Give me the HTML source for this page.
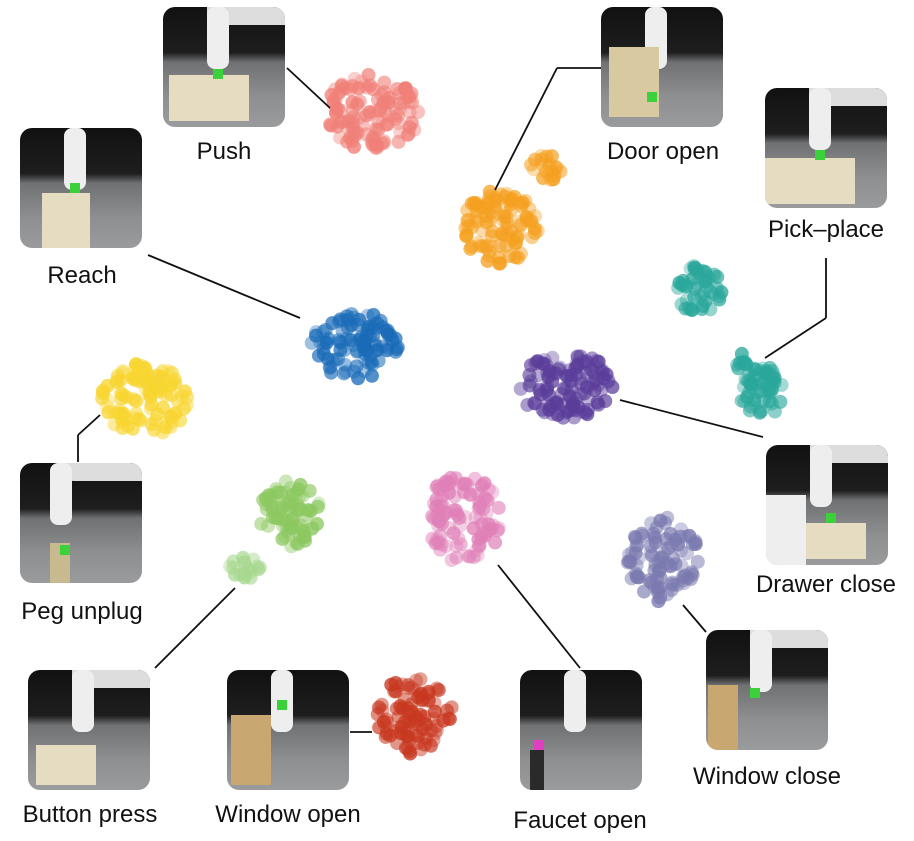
<!DOCTYPE html>
<html><head><meta charset="utf-8"><style>
body{margin:0;background:#fff;width:914px;height:841px;overflow:hidden;position:relative;font-family:"Liberation Sans",sans-serif}
.ph{position:absolute;width:122px;height:120px;border-radius:12px;overflow:hidden;background:linear-gradient(#111 0%,#1e1e1e 38%,#6f7173 46%,#8d8f91 75%,#9a9b9d 100%)}
.ph .arm{position:absolute;left:44px;top:0;width:22px;height:62px;background:#eee;border-radius:8px}
.ph .arm2{position:absolute;left:44px;top:0;width:78px;height:18px;background:#ddd;border-radius:0 0 0 10px}
.ph .board{position:absolute;left:6px;top:68px;width:80px;height:46px;background:#e6dcc2}
.ph .g{position:absolute;left:50px;top:62px;width:10px;height:10px;background:#3ad13a}
.lb{position:absolute;font-size:24px;color:#111;white-space:nowrap;transform:translateX(-50%)}
svg{position:absolute;left:0;top:0}
</style></head><body>
<svg id="s" width="914" height="841"></svg>
<div class="ph" style="left:163px;top:7px"><div class="arm2"></div><div class="arm"></div><div class="board"></div><div class="g"></div></div>
<div class="ph" style="left:20px;top:128px"><div class="arm"></div><div class="board" style="left:22px;top:65px;width:48px;height:55px"></div><div class="g" style="top:55px"></div></div>
<div class="ph" style="left:601px;top:7px"><div class="arm"></div><div class="board" style="left:8px;top:40px;width:50px;height:70px;background:#d9c9a0"></div><div class="g" style="left:46px;top:85px"></div></div>
<div class="ph" style="left:765px;top:88px"><div class="arm2"></div><div class="arm"></div><div class="board" style="left:0;top:70px;width:90px"></div><div class="g"></div></div>
<div class="ph" style="left:20px;top:463px"><div class="arm2"></div><div class="arm" style="left:30px"></div><div class="board" style="left:30px;top:80px;width:20px;height:40px;background:#c9b98f"></div><div class="g" style="left:40px;top:82px"></div></div>
<div class="ph" style="left:766px;top:445px"><div class="arm2"></div><div class="arm"></div><div class="board" style="left:0;top:50px;width:40px;height:70px;background:#eee"></div><div class="board" style="left:40px;top:78px;width:60px;height:36px"></div><div class="g" style="left:60px;top:68px"></div></div>
<div class="ph" style="left:28px;top:670px"><div class="arm2"></div><div class="arm"></div><div class="board" style="left:8px;top:75px;width:60px;height:40px"></div></div>
<div class="ph" style="left:227px;top:670px"><div class="arm"></div><div class="board" style="left:4px;top:45px;width:40px;height:70px;background:#c8a870"></div><div class="g" style="top:30px"></div></div>
<div class="ph" style="left:520px;top:670px"><div class="arm"></div><div class="board" style="left:10px;top:80px;width:14px;height:40px;background:#2a2a2a"></div><div class="g" style="left:14px;top:70px;background:#e040c0"></div></div>
<div class="ph" style="left:706px;top:630px"><div class="arm2"></div><div class="arm"></div><div class="board" style="left:2px;top:55px;width:30px;height:65px;background:#c8a870"></div><div class="g" style="left:44px;top:58px"></div></div>
<div class="lb" style="left:224px;top:138px">Push</div>
<div class="lb" style="left:82px;top:262px">Reach</div>
<div class="lb" style="left:663px;top:138px">Door open</div>
<div class="lb" style="left:826px;top:216px">Pick–place</div>
<div class="lb" style="left:82px;top:598px">Peg unplug</div>
<div class="lb" style="left:826px;top:571px">Drawer close</div>
<div class="lb" style="left:90px;top:801px">Button press</div>
<div class="lb" style="left:288px;top:801px">Window open</div>
<div class="lb" style="left:580px;top:807px">Faucet open</div>
<div class="lb" style="left:767px;top:763px">Window close</div>
<script>
var s=document.getElementById('s'),ns='http://www.w3.org/2000/svg',seed=7;
function r(){seed=(seed*16807)%2147483647;return seed/2147483647;}
function el(t,a){var e=document.createElementNS(ns,t);for(var k in a)e.setAttribute(k,a[k]);s.appendChild(e);}
function cl(cx,cy,rx,ry,c,n){for(var i=0;i<n;i++){var a=r()*6.283,d=Math.sqrt(r());var x=cx+Math.cos(a)*d*rx,y=cy+Math.sin(a)*d*ry;el('circle',{cx:x,cy:y,r:7,fill:c,'fill-opacity':0.35+0.45*r()});}}
cl(372,112,48,38,'#f08078',110);
cl(500,228,38,38,'#f5a020',100);cl(545,168,16,14,'#f5a020',20);
cl(355,345,44,34,'#1a6bb8',100);
cl(700,290,22,27,'#2aa79b',45);cl(762,392,22,26,'#2aa79b',55);cl(740,362,8,10,'#2aa79b',8);
cl(565,385,48,34,'#5a3d9a',110);
cl(145,400,44,37,'#f8d530',105);
cl(290,515,31,34,'#8cc860',75);cl(245,568,18,14,'#a8d890',18);
cl(463,518,39,44,'#e080b8',95);
cl(663,560,36,44,'#7a7ab0',90);
cl(415,715,38,40,'#c83820',90);
var L=[[287,68,330,108],[601,68,557,68],[557,68,495,190],[148,255,300,318],[826,258,826,318],[826,318,765,358],[620,400,763,437],[78,462,78,435],[78,435,100,415],[155,668,235,588],[350,732,372,732],[498,565,580,668],[683,605,706,632]];
L.forEach(function(l){el('line',{x1:l[0],y1:l[1],x2:l[2],y2:l[3],stroke:'#111','stroke-width':1.8});});
</script>
</body></html>
